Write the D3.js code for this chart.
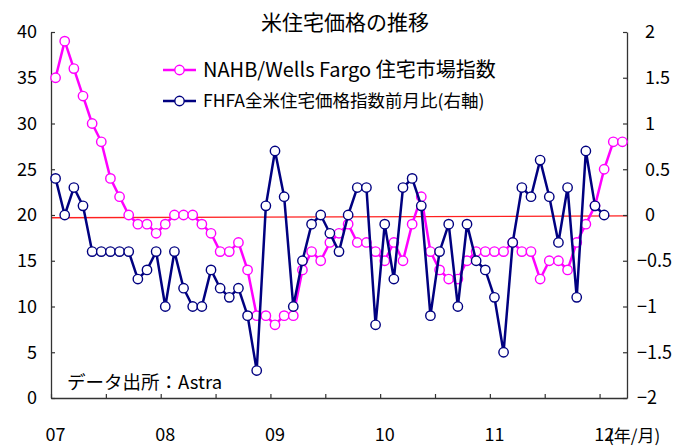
<!DOCTYPE html>
<html>
<head>
<meta charset="utf-8">
<script src="https://cdn.jsdelivr.net/npm/d3@7"></script>
<style>
  body { margin: 0; background: #fff; }
  text { font-family: "Noto Sans CJK JP", "Noto Sans", sans-serif; fill: #000; }
</style>
</head>
<body>
<div id="chart"></div>
<script>
// NAHB/Wells Fargo housing market index, Jan 2007 - Mar 2012 (left axis)
const nahb = [35, 39, 36, 33, 30, 28, 24, 22, 20, 19, 19, 18,
  19, 20, 20, 20, 19, 18, 16, 16, 17, 14, 9, 9,
  8, 9, 9, 14, 16, 15, 17, 18, 19, 17, 17, 16,
  15, 17, 15, 19, 22, 16, 14, 13, 13, 15, 16, 16,
  16, 16, 17, 16, 16, 13, 15, 15, 14, 17, 19, 21,
  25, 28, 28];

// FHFA house price index, month-on-month % (right axis), Jan 2007 - Jan 2012
const fhfa = [0.4, 0.0, 0.3, 0.1, -0.4, -0.4, -0.4, -0.4, -0.4, -0.7, -0.6, -0.4,
  -1.0, -0.4, -0.8, -1.0, -1.0, -0.6, -0.8, -0.9, -0.8, -1.1, -1.7, 0.1,
  0.7, 0.2, -1.0, -0.5, -0.1, 0.0, -0.2, -0.4, 0.0, 0.3, 0.3, -1.2,
  -0.1, -0.7, 0.3, 0.4, 0.1, -1.1, -0.4, -0.1, -1.0, -0.1, -0.5, -0.6,
  -0.9, -1.5, -0.3, 0.3, 0.2, 0.6, 0.2, -0.3, 0.3, -0.9, 0.7, 0.1,
  0.0];

// red reference line (right axis), at start and end of the plot
const zeroLine = [-0.03, -0.01];

const months = d3.timeMonths(new Date(2007, 0, 1), new Date(2012, 3, 1));
const yearLabels = ["07", "08", "09", "10", "11", "12"];
const leftTicks = [0, 5, 10, 15, 20, 25, 30, 35, 40];
const rightTicks = [-2, -1.5, -1, -0.5, 0, 0.5, 1, 1.5, 2];

const title = "米住宅価格の推移";
const nahbName = "NAHB/Wells Fargo 住宅市場指数";
const fhfaName = "FHFA全米住宅価格指数前月比(右軸)";
const source = "データ出所：Astra";

const width = 684, height = 447;
const margin = { top: 32, right: 57, bottom: 49, left: 51 };
const pink = "#ff00ff", navy = "#000080";

const svg = d3.select("#chart").append("svg")
  .attr("width", width)
  .attr("height", height);

const x = d3.scaleLinear()
  .domain([0, months.length])
  .range([margin.left, width - margin.right]);
const yL = d3.scaleLinear().domain([0, 40]).range([height - margin.bottom, margin.top]);
const yR = d3.scaleLinear().domain([-2, 2]).range([height - margin.bottom, margin.top]);

// title
svg.append("text")
  .attr("x", 345).attr("y", 30)
  .attr("text-anchor", "middle")
  .style("font-size", "21px")
  .text(title);

// red line
svg.append("line")
  .attr("x1", x(0)).attr("x2", x(months.length))
  .attr("y1", yR(zeroLine[0])).attr("y2", yR(zeroLine[1]))
  .attr("stroke", "#ff2020").attr("stroke-width", 1.3);

// axes
const axisL = d3.axisLeft(yL).tickValues(leftTicks).tickSizeInner(-4).tickSizeOuter(0).tickPadding(14);
const axisR = d3.axisRight(yR).tickValues(rightTicks).tickSizeInner(-4).tickSizeOuter(0).tickPadding(10)
  .tickFormat(d => d3.format("")(d).replace("-", "−"));
const axisB = d3.axisBottom(x)
  .tickValues(d3.range(0, months.length, 6))
  .tickSizeInner(-4).tickSizeOuter(0).tickFormat("");

const gL = svg.append("g").attr("transform", `translate(${margin.left},0)`).call(axisL);
const gR = svg.append("g").attr("transform", `translate(${width - margin.right},0)`).call(axisR);
const gB = svg.append("g").attr("transform", `translate(0,${height - margin.bottom})`).call(axisB);

[gL, gR, gB].forEach(g => {
  g.select(".domain").attr("stroke", "#333").attr("stroke-width", 1.3);
  g.selectAll(".tick line").attr("stroke", "#333").attr("stroke-width", 1.2);
  g.selectAll("text").style("font-size", "18px").attr("fill", "#000")
    .style("font-family", '"Noto Sans CJK JP", sans-serif');
});
// positive labels on the right axis leave room for a sign
gR.selectAll(".tick text").attr("dx", d => d >= 0 ? 8 : 0);

// year labels on January of each year
svg.append("g").selectAll("text")
  .data(yearLabels)
  .join("text")
  .attr("x", (d, i) => x(i * 12 + 0.5))
  .attr("y", 441)
  .attr("text-anchor", "middle")
  .style("font-size", "18px")
  .text(d => d);

svg.append("text")
  .attr("x", 608).attr("y", 442)
  .style("font-size", "17px")
  .text("(年/月)");

// source note
svg.append("text")
  .attr("x", 67).attr("y", 389)
  .style("font-size", "18.5px")
  .text(source);

// series
function drawSeries(values, yScale, color) {
  const line = d3.line()
    .x((d, i) => x(i + 0.5))
    .y(d => yScale(d));
  svg.append("path")
    .datum(values)
    .attr("d", line)
    .attr("fill", "none")
    .attr("stroke", color)
    .attr("stroke-width", 2.5)
    .attr("stroke-linejoin", "round");
  svg.append("g").selectAll("circle")
    .data(values)
    .join("circle")
    .attr("cx", (d, i) => x(i + 0.5))
    .attr("cy", d => yScale(d))
    .attr("r", 4.7)
    .attr("fill", "#fff")
    .attr("stroke", color)
    .attr("stroke-width", 1.4);
}
drawSeries(nahb, yL, pink);
drawSeries(fhfa, yR, navy);

// legend
const legend = [
  { name: nahbName, color: pink, y: 70, size: 20 },
  { name: fhfaName, color: navy, y: 101, size: 17.5 }
];
const lg = svg.append("g").selectAll("g")
  .data(legend)
  .join("g");
lg.append("line")
  .attr("x1", 163).attr("x2", 196)
  .attr("y1", d => d.y).attr("y2", d => d.y)
  .attr("stroke", d => d.color).attr("stroke-width", 2.5);
lg.append("circle")
  .attr("cx", 179.5).attr("cy", d => d.y).attr("r", 4.7)
  .attr("fill", "#fff").attr("stroke", d => d.color).attr("stroke-width", 1.4);
lg.append("text")
  .attr("x", 203).attr("y", d => d.y)
  .attr("dy", "0.35em")
  .style("font-size", d => d.size + "px")
  .text(d => d.name);
</script>
</body>
</html>
